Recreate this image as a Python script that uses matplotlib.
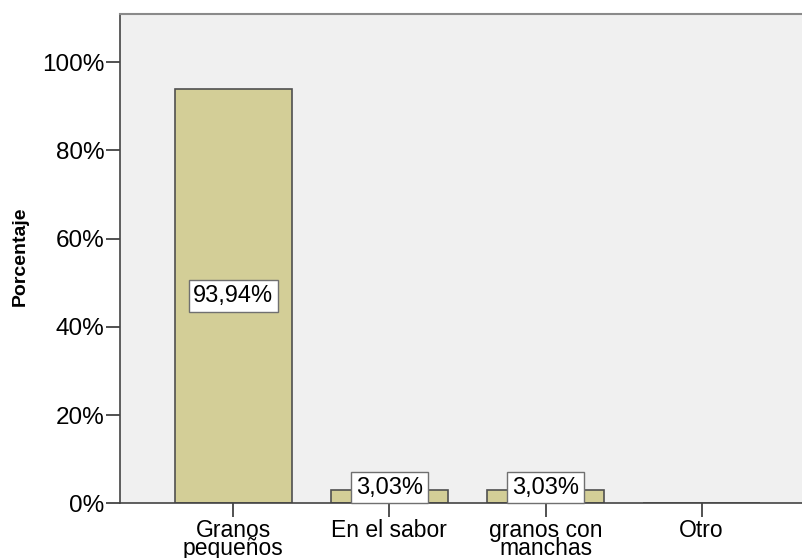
import matplotlib
matplotlib.use('Agg')
import matplotlib.pyplot as plt
from matplotlib.ticker import FuncFormatter

# datos
categorias = ['Granos\npequeños', 'En el sabor', 'granos con\nmanchas', 'Otro']
porcentajes = [93.94, 3.03, 3.03, 0.0]
etiquetas = ['93,94%', '3,03%', '3,03%', '']
yticks = [0, 20, 40, 60, 80, 100]

plt.rcParams['font.family'] = ['Liberation Sans', 'DejaVu Sans']

fig = plt.figure(figsize=(8.02, 5.58), dpi=100)
ax = fig.add_axes([0.1496, 0.0977, 0.8504, 0.8781])
ax.set_facecolor('#F0F0F0')

x = list(range(len(categorias)))
ax.bar(x, porcentajes, width=0.75, color='#D3CE97', edgecolor='#505050', linewidth=1.2, zorder=2)

for xi, v, txt in zip(x, porcentajes, etiquetas):
    if not txt:
        continue
    # la etiqueta va en el centro de la barra, o apoyada en el eje si no cabe
    y = v / 2 if v > 10 else 3.6
    ax.text(xi, y, txt, ha='center', va='center', fontsize=17, zorder=3,
            bbox=dict(boxstyle='square,pad=0.2', facecolor='white', edgecolor='#707070', linewidth=1))

ax.set_xlim(-0.726, 3.643)
ax.set_ylim(0, 111)
ax.set_xticks(x)
ax.set_xticklabels(categorias, fontsize=16.5, linespacing=0.74)
ax.set_yticks(yticks)
ax.yaxis.set_major_formatter(FuncFormatter(lambda v, p: '%d%%' % v))
ax.tick_params(axis='y', labelsize=17.5, length=10, width=1.2, pad=1, color='#333333')
ax.tick_params(axis='x', length=10, width=1.2, pad=1, color='#333333')

ax.spines['right'].set_visible(False)
ax.spines['top'].set_color('#8A8A8A')
ax.spines['top'].set_linewidth(1.5)
ax.spines['left'].set_color('#444444')
ax.spines['bottom'].set_color('#444444')
ax.spines['left'].set_linewidth(1.2)
ax.spines['bottom'].set_linewidth(1.2)

fig.text(0.025, 0.541, 'Porcentaje', rotation=90, ha='center', va='center', fontsize=14,
         fontweight='bold', family=['Liberation Sans Narrow', 'Liberation Sans', 'DejaVu Sans'])

fig.savefig('out.png', dpi=100)
